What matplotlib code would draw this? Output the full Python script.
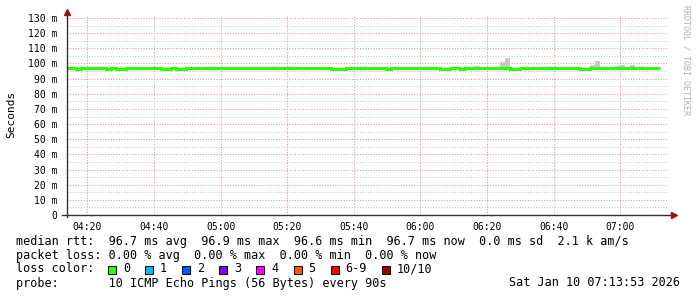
import matplotlib
matplotlib.use("Agg")
import matplotlib.pyplot as plt
from matplotlib.patches import Rectangle

# median rtt (ms) as a step series: value holds from each time to the next
med_time = ["04:14:00", "04:16:30", "04:18:00", "04:25:30", "04:27:00", "04:28:30",
            "04:31:30", "04:42:00", "04:45:00", "04:46:30", "04:49:30", "05:33:00",
            "05:37:30", "05:49:30", "05:51:00", "06:06:00", "06:09:00", "06:12:00",
            "06:13:30", "06:27:00", "06:30:00", "06:48:00", "06:51:00", "07:12:00"]
med_ms = [96.9, 96.4, 96.9, 96.4, 96.9, 96.4, 96.9, 96.4, 96.9, 96.4, 96.9, 96.4,
          96.9, 96.4, 96.9, 96.4, 96.9, 96.4, 96.9, 96.4, 96.9, 96.4, 96.9, 96.9]

# smoke (max ping) above the median
smoke_time = ["04:52:30", "06:16:30", "06:24:00", "06:25:30", "06:51:00",
              "06:52:30", "06:58:30", "07:00:00", "07:03:00"]
smoke_top = [98.0, 98.3, 100.8, 103.6, 99.0, 101.6, 98.3, 99.0, 99.0]

y_ticks = [0, 10, 20, 30, 40, 50, 60, 70, 80, 90, 100, 110, 120, 130]
x_ticks = ["04:20", "04:40", "05:00", "05:20", "05:40", "06:00", "06:20", "06:40", "07:00"]

loss_labels = ["0", "1", "2", "3", "4", "5", "6-9", "10/10"]
loss_colors = ["#26ff00", "#00b8ff", "#0059ff", "#7e00ff", "#ff00ff", "#ff5500", "#ff0000", "#a10000"]


def minutes(s):
    p = [int(v) for v in s.split(":")]
    return p[0] * 60 + p[1] + (p[2] / 60 if len(p) > 2 else 0)


W, H = 697, 297
fig = plt.figure(figsize=(W / 100, H / 100), dpi=100)
fig.patch.set_facecolor("white")

x0, x1 = 67, 666.6
y0, y1 = 215, 15
ax = fig.add_axes([x0 / W, 1 - y0 / H, (x1 - x0) / W, (y0 - y1) / H])
t_start = minutes("04:13:53")
ax.set_xlim(t_start, t_start + 180)
ax.set_ylim(0, 132)
for s in ax.spines.values():
    s.set_visible(False)

mono = "DejaVu Sans Mono"
dot = (0, (1, 1.6))
minor_c = "#c6c6c6"
major_c = "#e69090"

# grid
for v in range(5, 131, 5):
    if v % 10:
        ax.axhline(v, color=minor_c, lw=0.75, ls=dot, zorder=1)
for v in y_ticks[1:]:
    ax.axhline(v, color=major_c, lw=0.75, ls=dot, zorder=1)
tm = 14 * 60 + 15
while tm < t_start + 180:
    if tm % 20:
        ax.axvline(tm, color=minor_c, lw=0.75, ls=dot, zorder=1)
    tm += 5
for s in x_ticks:
    ax.axvline(minutes(s), color=major_c, lw=0.75, ls=dot, zorder=1)

# smoke
sx = [minutes(s) for s in smoke_time]
ax.bar(sx, [t - 96.9 for t in smoke_top], bottom=96.9, width=1.5, align="edge",
       color="#c8c8c8", linewidth=0, zorder=2)

# median line
mx = [minutes(s) for s in med_time]
ax.step(mx, med_ms, where="post", color="#26ff00", lw=2.2, zorder=3,
        solid_capstyle="butt", solid_joinstyle="miter")

# ticks
ax.set_yticks(y_ticks)
ax.set_yticklabels(["0"] + [f"{v} m" for v in y_ticks[1:]], fontfamily=mono, fontsize=7)
ax.set_xticks([minutes(s) for s in x_ticks])
ax.set_xticklabels(x_ticks, fontfamily=mono, fontsize=7)
ax.tick_params(axis="y", length=0, pad=7)
ax.tick_params(axis="x", length=0, pad=5)

# axes with arrows
ax.plot([0, 0], [-0.01, 1.0], transform=ax.transAxes, color="#333333", lw=1, clip_on=False, zorder=4)
ax.plot([-0.008, 1.008], [0, 0], transform=ax.transAxes, color="#333333", lw=1, clip_on=False, zorder=4)
ax.plot([0], [1.015], transform=ax.transAxes, marker="^", ms=4.5, color="#a01010", clip_on=False, zorder=5)
ax.plot([1.012], [0], transform=ax.transAxes, marker=">", ms=4.5, color="#a01010", clip_on=False, zorder=5)

fig.text(11 / W, 1 - 114 / H, "Seconds", rotation=90, ha="center", va="center",
         fontfamily=mono, fontsize=8)
fig.text(686 / W, 1 - 5 / H, "RRDTOOL / TOBI OETIKER", rotation=270, ha="center", va="top",
         fontfamily=mono, fontsize=6, color="#b0b0b0")

fs = 8.5
fig.text(16 / W, 1 - 241 / H,
         "median rtt:  96.7 ms avg  96.9 ms max  96.6 ms min  96.7 ms now  0.0 ms sd  2.1 k am/s",
         fontfamily=mono, fontsize=fs, va="center")
fig.text(16 / W, 1 - 255 / H,
         "packet loss: 0.00 % avg  0.00 % max  0.00 % min  0.00 % now",
         fontfamily=mono, fontsize=fs, va="center")
fig.text(16 / W, 1 - 269 / H, "loss color:", fontfamily=mono, fontsize=fs, va="center")
fig.text(16 / W, 1 - 283 / H, "probe:       10 ICMP Echo Pings (56 Bytes) every 90s",
         fontfamily=mono, fontsize=fs, va="center")
fig.text(680 / W, 1 - 283 / H, "Sat Jan 10 07:13:53 2026",
         fontfamily=mono, fontsize=fs, va="center", ha="right")

bx = 108
for lab, col in zip(loss_labels, loss_colors):
    fig.patches.append(Rectangle((bx / W, 1 - 273.5 / H), 8 / W, 8 / H, transform=fig.transFigure,
                                 facecolor=col, edgecolor="black", lw=0.7))
    fig.text((bx + 15) / W, 1 - 269 / H, lab, fontfamily=mono, fontsize=fs, va="center")
    bx += 30 + 7.12 * len(lab)

fig.savefig("out.png", dpi=100)
